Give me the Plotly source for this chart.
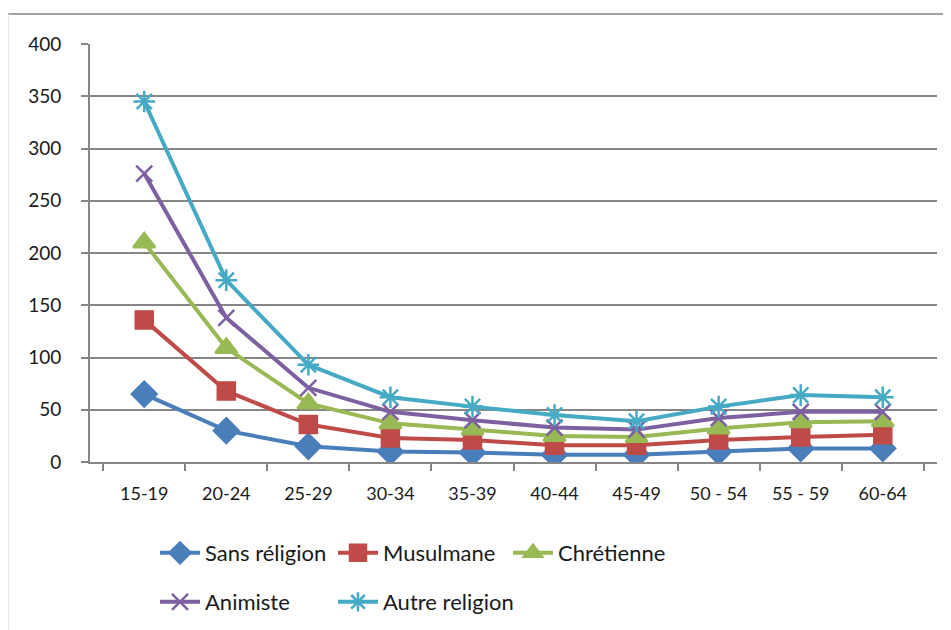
import plotly.graph_objects as go

age_groups = ["15-19", "20-24", "25-29", "30-34", "35-39", "40-44",
              "45-49", "50 - 54", "55 - 59", "60-64"]

sans_religion = [65, 30, 15, 10, 9, 7, 7, 10, 13, 13]
musulmane = [136, 68, 36, 23, 21, 16, 16, 21, 24, 26]
chretienne = [210, 109, 56, 37, 31, 25, 24, 32, 38, 39]
animiste = [276, 138, 71, 48, 40, 33, 31, 42, 48, 48]
autre_religion = [345, 174, 93, 62, 53, 45, 39, 53, 64, 62]

# name, values, colour, symbol, marker size
series = [
    ("Sans réligion", sans_religion, "#4A7EBB", "diamond", 19),
    ("Musulmane", musulmane, "#BE4B48", "square", 17),
    ("Chrétienne", chretienne, "#98B954", "triangle-up", 19),
    ("Animiste", animiste, "#7D60A0", "x-thin", 16),
    ("Autre religion", autre_religion, "#46AAC5", "asterisk", 18),
]

# page has an 8px body margin, so the figure is sized to fit inside it
W, H = 943, 622
grid = "#868686"

# one small legend per entry, placed like the Excel legend (two rows)
legend_spots = [(147, 545), (325, 545), (500, 545), (147, 594), (325, 594)]

fig = go.Figure()
legends = {}
for i, ((name, vals, color, symbol, size), (lx, ly)) in enumerate(zip(series, legend_spots)):
    key = "legend" if i == 0 else f"legend{i + 1}"
    legends[key] = dict(
        orientation="h", xref="container", yref="container",
        x=lx / W, y=1 - ly / H, xanchor="left", yanchor="middle",
        itemwidth=40, font=dict(size=22), bgcolor="rgba(0,0,0,0)",
    )
    fig.add_trace(go.Scatter(
        x=age_groups, y=vals, name=name, legend=key,
        mode="lines+markers",
        line=dict(color=color, width=4),
        marker=dict(symbol=symbol, size=size, color=color,
                    line=dict(color=color, width=2.5)),
    ))

fig.update_layout(
    width=W, height=H,
    paper_bgcolor="white", plot_bgcolor="white",
    margin=dict(l=82, r=14, t=36, b=168, autoexpand=False),
    font=dict(family="Lato, 'Noto Sans', sans-serif", size=18, color="#1a1a1a"),
    showlegend=True,
    shapes=[
        dict(type="line", xref="paper", yref="paper",
             x0=-0.1, x1=1.02, y0=1.072, y1=1.072,
             line=dict(color=grid, width=1.5)),
        dict(type="line", xref="paper", yref="paper",
             x0=-0.096, x1=-0.096, y0=1.072, y1=-0.41,
             line=dict(color="#e6e6e6", width=1)),
    ],
    **legends,
)
fig.update_xaxes(
    showline=True, linecolor=grid, linewidth=2,
    ticks="outside", tickson="boundaries", ticklen=7, tickcolor=grid, tickwidth=2,
    showgrid=False, tickfont=dict(size=18), ticklabelstandoff=14,
)
fig.update_yaxes(
    range=[0, 400], dtick=50,
    showline=True, linecolor=grid, linewidth=2,
    ticks="outside", ticklen=7, tickcolor=grid, tickwidth=1.5,
    showgrid=True, gridcolor=grid, gridwidth=1.5,
    zeroline=False, tickfont=dict(size=19), ticklabelstandoff=16,
)

fig.write_html("out.html")
